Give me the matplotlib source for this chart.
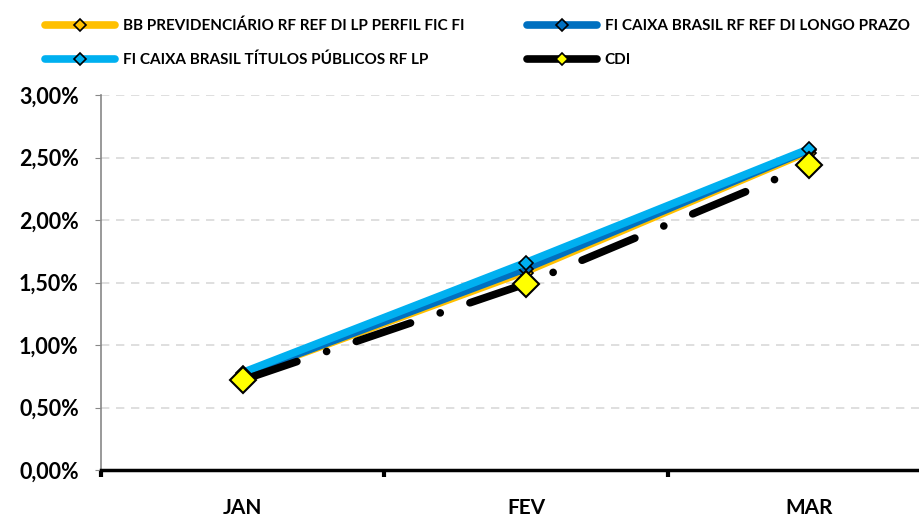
import matplotlib
matplotlib.use("Agg")
import matplotlib.pyplot as plt
from matplotlib.lines import Line2D

# dados (rentabilidade acumulada, %)
meses = ['JAN', 'FEV', 'MAR']
bb_prev = [0.75, 1.58, 2.54]
caixa_di_lp = [0.76, 1.61, 2.56]
caixa_tp = [0.78, 1.66, 2.57]
cdi = [0.72, 1.49, 2.44]

nomes = ['BB PREVIDENCIÁRIO RF REF DI LP PERFIL FIC FI',
         'FI CAIXA BRASIL RF REF DI LONGO PRAZO',
         'FI CAIXA BRASIL TÍTULOS PÚBLICOS RF LP',
         'CDI']

plt.rcParams['font.family'] = ['Lato', 'DejaVu Sans']
plt.rcParams['font.weight'] = 'bold'

fig = plt.figure(figsize=(9.19, 5.19), dpi=100)
ax = fig.add_axes([101/919, 49/519, 850/919, 375/519])

x = range(len(meses))
ax.plot(x, bb_prev, color='#FFC000', lw=4, marker='D', ms=7,
        mfc='#FFC000', mec='black', mew=1.2, zorder=3)
ax.plot(x, caixa_di_lp, color='#0070C0', lw=5, marker='D', ms=7,
        mfc='#0070C0', mec='black', mew=1.2, zorder=4)
ax.plot(x, caixa_tp, color='#00B0F0', lw=5.5, marker='D', ms=7,
        mfc='#00B0F0', mec='black', mew=1.2, zorder=5)
ax.plot(x, cdi, color='black', lw=5.5, dashes=(7.5, 4.1, 0.01, 4.1),
        dash_capstyle='round', marker='D', ms=13, mfc='#FFFF00',
        mec='black', mew=1.5, zorder=6)

ax.set_xlim(-0.5, 2.5)
ax.set_ylim(0, 3.0)
ax.set_yticks([0, 0.5, 1.0, 1.5, 2.0, 2.5, 3.0])
ax.set_yticklabels([('%.2f%%' % v).replace('.', ',') for v in ax.get_yticks()])
ax.set_xticks(list(x))
ax.set_xticklabels(meses)
ax.set_xticks([-0.5, 0.5, 1.5, 2.5], minor=True)

ax.grid(axis='y', color='#D9D9D9', linestyle=(0, (5, 4)), lw=1.2)
ax.set_axisbelow(True)
for s in ['top', 'right']:
    ax.spines[s].set_visible(False)
ax.spines['left'].set_color('#888888')
ax.spines['left'].set_linewidth(1.2)
ax.spines['bottom'].set_linewidth(2.5)
ax.spines['bottom'].set_zorder(7)

ax.tick_params(axis='y', length=4, color='#888888', pad=12, labelsize=15.5)
ax.tick_params(axis='x', which='major', length=0, pad=20, labelsize=15)
ax.tick_params(axis='x', which='minor', length=5, width=3, color='black')

def item(cor, cor_marcador):
    return Line2D([], [], color=cor, lw=5.5, solid_capstyle='round', marker='D',
                  ms=6, mfc=cor_marcador, mec='black', mew=1.2)

# ordem em colunas para que a legenda fique lida por linha
handles = [item('#FFC000', '#FFC000'), item('#00B0F0', '#00B0F0'),
           item('#0070C0', '#0070C0'), item('black', '#FFFF00')]
labels = [nomes[0], nomes[2], nomes[1], nomes[3]]
fig.legend(handles, labels, ncol=2, loc='upper left', bbox_to_anchor=(37/919, 1 - 11/519),
           frameon=False, borderpad=0, prop={'size': 11, 'weight': 'bold'},
           handlelength=4.6, handletextpad=0.5, columnspacing=4.1, labelspacing=1.3)

fig.savefig('out.png', dpi=100)
